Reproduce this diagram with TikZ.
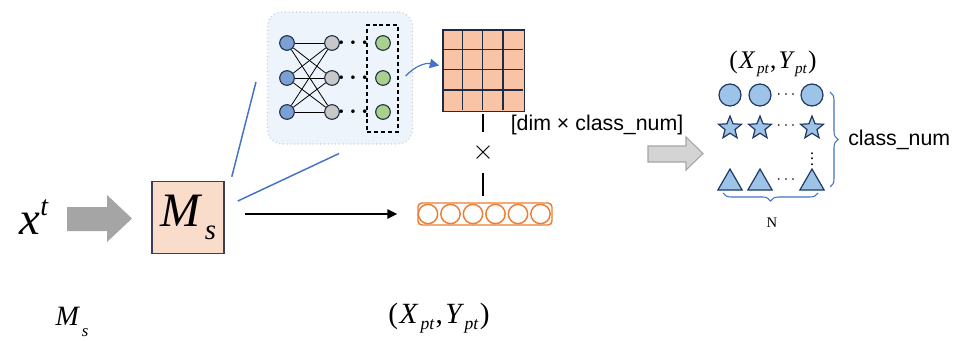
\documentclass[tikz,border=0pt]{standalone}
\usepackage{fontspec}
\setmainfont{Liberation Serif}
\newfontfamily\arialfont{Liberation Sans}
\usetikzlibrary{positioning,shapes.geometric,arrows.meta,decorations.pathreplacing}

\definecolor{navyline}{HTML}{1F2A44}
\definecolor{inblue}{HTML}{7DA0D4}
\definecolor{hidgray}{HTML}{C8C8C8}
\definecolor{outgreen}{HTML}{A8D18D}
\definecolor{matorange}{HTML}{F8C4A5}
\definecolor{msfill}{HTML}{FADCCB}
\definecolor{msborder}{HTML}{3B3F5C}
\definecolor{vecorange}{HTML}{ED7D31}
\definecolor{arrowgray}{HTML}{A5A5A5}
\definecolor{arrowlight}{HTML}{D4D4D4}
\definecolor{protoblue}{HTML}{9DC3E6}
\definecolor{protoline}{HTML}{1F3864}
\definecolor{linkblue}{HTML}{4472C4}
\definecolor{panelbg}{HTML}{EEF4FB}
\definecolor{panelline}{HTML}{C9CED6}

\newcommand{\lowsub}[2][0.25em]{\kern0.1em\raisebox{-#1}{\scalebox{0.6}{\itshape #2}}}
\newcommand{\upsup}[1]{\raisebox{0.42em}{\scalebox{0.6}{\itshape #1}}}
\newcommand{\ptpair}{(\kern0.05em\itshape X\lowsub[0.22em]{pt}\upshape\kern0.05em,\kern0.08em\itshape Y\lowsub[0.22em]{pt}\upshape\kern0.05em)}

\begin{document}
\begin{tikzpicture}[x=0.75pt, y=-0.75pt,
  neuron/.style={circle, draw=navyline, line width=0.8pt, minimum size=11pt, inner sep=0pt},
  protocirc/.style={circle, draw=protoline, fill=protoblue, line width=0.9pt, minimum size=16.5pt, inner sep=0pt},
  protostar/.style={star, star points=5, star point ratio=2.3, draw=protoline, fill=protoblue, line width=0.9pt, minimum size=18pt, inner sep=0pt},
  prototri/.style={regular polygon, regular polygon sides=3, draw=protoline, fill=protoblue, line width=0.9pt, minimum size=21pt, inner sep=0pt},
  linkline/.style={draw=linkblue, line width=1.1pt},
  bracestyle/.style={draw=linkblue, line width=0.8pt, decorate, decoration={brace, amplitude=6pt}},
  sanslabel/.style={font=\arialfont\fontsize{16}{18}\selectfont, inner sep=0pt}]
\useasboundingbox (0,0) rectangle (967,340);

  % Input and encoder
  \node[font=\fontsize{35}{35}\selectfont, inner sep=0pt] (xt) at (34,217) {\itshape x\upsup{t}};
  \fill[arrowgray] (67,207) -- (107,207) -- (107,195) -- (132,218.5) -- (107,242) -- (107,231) -- (67,231) -- cycle;
  \node[draw=msborder, fill=msfill, line width=1.2pt, minimum size=54pt, inner sep=0pt,
        font=\fontsize{36}{36}\selectfont] (ms) at (188,217.5) {\itshape M\lowsub[0.27em]{s}};

  % Network panel
  \node[fill=panelbg, draw=panelline, dotted, line width=0.8pt, rounded corners=11pt,
        minimum width=108.75pt, minimum height=99pt] (panel) at (340,78) {};
  \foreach \i/\y in {1/43,2/78,3/112} {
    \node[neuron, fill=inblue] (in\i) at (287,\y) {};
    \node[neuron, fill=hidgray] (hid\i) at (332,\y) {};
    \node[font=\fontsize{16}{16}\selectfont\boldmath, inner sep=0pt] (dots\i) at (353,\y) {$\cdots$};
    \node[neuron, fill=outgreen] (out\i) at (383,\y) {};
  }
  \foreach \i in {1,2,3}
    \foreach \j in {1,2,3}
      \draw[line width=0.6pt] (in\i) -- (hid\j);
  \node[draw, dashed, dash pattern=on 3pt off 2.2pt, line width=1.1pt, minimum width=23.25pt,
        minimum height=80.25pt] (outbox) at (382.5,78.5) {};

  % Zoom lines
  \draw[linkline] ([shift={(7,-4)}]ms.north east) -- ([shift={(-11,4)}]panel.west);
  \draw[linkline] ([shift={(13,-16.5)}]ms.east) -- ([shift={(-1,9)}]panel.south);

  % Prototype matrix
  \node[draw=navyline, fill=matorange, line width=1pt, minimum size=61pt, inner sep=0pt] (mat) at (483.5,70.5) {};
  \foreach \k in {1,2,3} {
    \draw[navyline, line width=0.9pt] (mat.north west) ++(20.25*\k,0) -- ++(0,81);
    \draw[navyline, line width=0.9pt] (mat.north west) ++(0,20.25*\k) -- ++(81,0);
  }
  \draw[linkline, line width=0.9pt, -{Triangle[length=7pt,width=7pt]}] ([shift={(7,-2.5)}]outbox.east) to[bend left=30] ([shift={(-3,-5)}]mat.west);

  % Feature vector
  \node[draw=vecorange, line width=1.1pt, rounded corners=3pt, minimum width=100.5pt,
        minimum height=16.5pt, inner sep=0pt] (vec) at (485,214) {};
  \foreach \k in {0,...,5}
    \node[circle, draw=vecorange, line width=1.1pt, minimum size=14.5pt, inner sep=0pt] (v\k) at (428+22.5*\k,214) {};
  \draw[line width=1.6pt, -{Triangle[length=7.5pt,width=7pt]}, shorten <=15pt, shorten >=15pt] (ms.east |- vec.west) -- (vec.west);

  % Product
  \node[font=\fontsize{21}{21}\selectfont, inner sep=0pt, minimum height=30pt] (times) at (483,152.5) {$\times$};
  \draw[line width=1.8pt] ([yshift=-1.5pt]mat.south -| times) -- (times.north);
  \draw[line width=1.8pt] (times.south) -- ([yshift=4.5pt]vec.north -| times);
  \node[sanslabel] (dimlabel) at (597,125) {[dim × class\_num]};

  % Prototypes
  \filldraw[fill=arrowlight, draw=arrowgray, line width=0.8pt] (648,146) -- (686,146) -- (686,137) -- (703,153.5) -- (686,170) -- (686,162) -- (648,162) -- cycle;
  \node[font=\fontsize{19}{19}\selectfont, inner sep=0pt] (protolabel) at (773,64) {\ptpair};
  \foreach \c/\x in {1/730,2/760,3/812} {
    \node[protocirc] (c\c) at (\x,95) {};
    \node[protostar] (s\c) at (\x,128) {};
    \node[prototri] (t\c) at (\x,183) {};
  }
  \node[font=\fontsize{13}{13}\selectfont, inner sep=0pt] (cdots) at (786,95) {$\cdots$};
  \node[font=\fontsize{13}{13}\selectfont, inner sep=0pt] (sdots) at (786,126) {$\cdots$};
  \node[font=\fontsize{13}{13}\selectfont, inner sep=0pt] (tdots) at (786,180) {$\cdots$};
  \node[font=\fontsize{12}{12}\selectfont, inner sep=0pt] (vdots) at (812,155) {$\vdots$};
  \draw[bracestyle] (830,92) -- (830,187);
  \node[sanslabel, anchor=west] (classlabel) at (848,140) {class\_num};
  \draw[bracestyle] (818,193) -- (723,193);
  \node[font=\fontsize{11}{11}\selectfont, inner sep=0pt] (nlabel) at (772,223) {N};

  % Bottom labels
  \node[font=\fontsize{21}{21}\selectfont, inner sep=0pt] (mslabel) at (72,322) {\itshape M\lowsub[0.4em]{s}};
  \node[font=\fontsize{22}{22}\selectfont, inner sep=0pt] (xylabel) at (439,318) {\ptpair};
\end{tikzpicture}
\end{document}
